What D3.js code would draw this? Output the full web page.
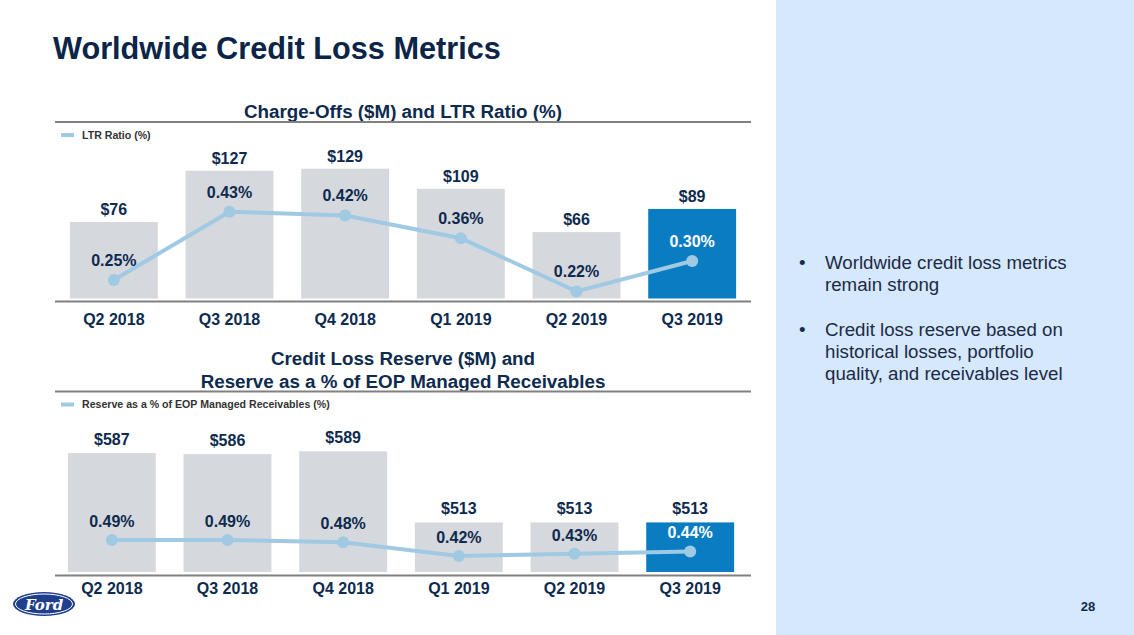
<!DOCTYPE html>
<html>
<head>
<meta charset="utf-8">
<script src="https://cdnjs.cloudflare.com/ajax/libs/d3/7.8.5/d3.min.js"></script>
<style>
  body { margin: 0; background: #fff; }
  svg { display: block; font-family: "Liberation Sans", Arial, sans-serif; }
  .axis .domain { stroke: #808080; stroke-width: 2; }
  .axis text { font-size: 16px; font-weight: bold; fill: #0d2a4f; }
</style>
</head>
<body>
<div id="chart"></div>
<script>
const quarters = ["Q2 2018", "Q3 2018", "Q4 2018", "Q1 2019", "Q2 2019", "Q3 2019"];
const chargeOffs = [76, 127, 129, 109, 66, 89];
const ltrRatio = [0.25, 0.43, 0.42, 0.36, 0.22, 0.30];
const reserve = [587, 586, 589, 513, 513, 513];
const reservePct = [0.49, 0.49, 0.48, 0.42, 0.43, 0.44];
const bullets = [
  ["Worldwide credit loss metrics", "remain strong"],
  ["Credit loss reserve based on", "historical losses, portfolio", "quality, and receivables level"]
];

const W = 1134, H = 635;
const navy = "#0d2a4f";
const barGray = "#d5d8dd";
const barBlue = "#0a7dc2";
const lineBlue = "#a0c9e4";

const svg = d3.select("#chart").append("svg").attr("width", W).attr("height", H);

// right side panel
svg.append("rect").attr("x", 776).attr("y", 0).attr("width", W - 776).attr("height", H).attr("fill", "#d6e8fb");

// page title
svg.append("text")
  .attr("x", 53).attr("y", 59)
  .attr("font-size", 30.7).attr("font-weight", "bold")
  .attr("fill", "#0b2548")
  .text("Worldwide Credit Loss Metrics");

function drawPanel(opt) {
  const g = svg.append("g");
  const x = d3.scaleBand().domain(quarters).range(opt.xRange).paddingInner(0.24).paddingOuter(0.12);

  // titles + header rule
  opt.title.forEach((t, i) => {
    g.append("text")
      .attr("x", 403).attr("y", opt.titleY + i * 23)
      .attr("text-anchor", "middle")
      .attr("font-size", 18.8).attr("font-weight", "bold")
      .attr("fill", navy)
      .text(t);
  });
  g.append("line")
    .attr("x1", 55).attr("x2", 751)
    .attr("y1", opt.ruleY).attr("y2", opt.ruleY)
    .attr("stroke", "#808080").attr("stroke-width", 2);

  // legend
  g.append("line")
    .attr("x1", 61).attr("x2", 74)
    .attr("y1", opt.ruleY + 13).attr("y2", opt.ruleY + 13)
    .attr("stroke", lineBlue).attr("stroke-width", 4);
  g.append("text")
    .attr("x", 82).attr("y", opt.ruleY + 16.5)
    .attr("font-size", 10.6).attr("font-weight", "bold")
    .attr("fill", "#333")
    .text(opt.legend);

  // bars
  g.selectAll("rect.bar")
    .data(opt.bars)
    .join("rect")
    .attr("class", "bar")
    .attr("x", (d, i) => x(quarters[i]))
    .attr("width", x.bandwidth())
    .attr("y", d => opt.yBar(d))
    .attr("height", d => opt.yBar.range()[0] - opt.yBar(d))
    .attr("fill", (d, i) => i === quarters.length - 1 ? barBlue : barGray);

  g.selectAll("text.barlabel")
    .data(opt.bars)
    .join("text")
    .attr("class", "barlabel")
    .attr("x", (d, i) => x(quarters[i]) + x.bandwidth() / 2)
    .attr("y", d => opt.yBar(d) - opt.barLabelGap)
    .attr("text-anchor", "middle")
    .attr("font-size", 16).attr("font-weight", "bold")
    .attr("fill", navy)
    .text(d => "$" + d);

  // line
  const line = d3.line()
    .x((d, i) => x(quarters[i]) + x.bandwidth() / 2)
    .y(d => opt.yLine(d));
  g.append("path")
    .datum(opt.pts)
    .attr("d", line)
    .attr("fill", "none")
    .attr("stroke", lineBlue)
    .attr("stroke-width", 4);
  g.selectAll("circle.pt")
    .data(opt.pts)
    .join("circle")
    .attr("class", "pt")
    .attr("cx", (d, i) => x(quarters[i]) + x.bandwidth() / 2)
    .attr("cy", d => opt.yLine(d))
    .attr("r", 6)
    .attr("fill", lineBlue);

  g.selectAll("text.ptlabel")
    .data(opt.pts)
    .join("text")
    .attr("class", "ptlabel")
    .attr("x", (d, i) => x(quarters[i]) + x.bandwidth() / 2)
    .attr("y", d => opt.yLine(d) - opt.ptLabelGap)
    .attr("text-anchor", "middle")
    .attr("font-size", 16).attr("font-weight", "bold")
    .attr("fill", (d, i) => i === quarters.length - 1 ? "#fff" : navy)
    .text(d => d.toFixed(2) + "%");

  // x axis
  g.append("g")
    .attr("class", "axis")
    .attr("transform", `translate(0,${opt.axisY})`)
    .call(d3.axisBottom(x).tickSize(0).tickPadding(opt.tickPad))
    .call(a => a.select(".domain").attr("d", `M55,0H751`));
}

drawPanel({
  xRange: [56, 750],
  title: ["Charge-Offs ($M) and LTR Ratio (%)"],
  titleY: 118,
  ruleY: 122,
  legend: "LTR Ratio (%)",
  bars: chargeOffs,
  yBar: d3.scaleLinear().domain([0, 129]).range([298.5, 168.7]),
  barLabelGap: 7,
  pts: ltrRatio,
  yLine: d3.scaleLinear().domain([0.25, 0.43]).range([280, 211.7]),
  ptLabelGap: 14,
  axisY: 301.5,
  tickPad: 12
});

drawPanel({
  xRange: [54, 748],
  title: ["Credit Loss Reserve ($M) and", "Reserve as a % of EOP Managed Receivables"],
  titleY: 364.5,
  ruleY: 391.5,
  legend: "Reserve as a % of EOP Managed Receivables (%)",
  bars: reserve,
  yBar: d3.scaleLinear().domain([460, 589]).range([572, 451.3]),
  barLabelGap: 8,
  pts: reservePct,
  yLine: d3.scaleLinear().domain([0.42, 0.49]).range([556, 540]),
  ptLabelGap: 13,
  axisY: 575.5,
  tickPad: 7
});

// bullets on the right panel
let by = 269;
bullets.forEach(lines => {
  svg.append("text")
    .attr("x", 799).attr("y", by)
    .attr("font-size", 18.7).attr("fill", "#1b2a48")
    .text("•");
  lines.forEach((l, i) => {
    svg.append("text")
      .attr("x", 825).attr("y", by + i * 22.3)
      .attr("font-size", 18.7).attr("fill", "#1b2a48")
      .text(l);
  });
  by += lines.length * 22.3 + 22;
});

// page number
svg.append("text")
  .attr("x", 1088).attr("y", 611)
  .attr("text-anchor", "middle")
  .attr("font-size", 13).attr("font-weight", "bold")
  .attr("fill", navy)
  .text("28");

// Ford oval
const logo = svg.append("g").attr("transform", "translate(44,604)");
logo.append("ellipse").attr("rx", 31).attr("ry", 12).attr("fill", "#1f3f8c");
logo.append("ellipse").attr("rx", 28.5).attr("ry", 10).attr("fill", "none").attr("stroke", "#fff").attr("stroke-width", 1);
logo.append("text")
  .attr("y", 5.5).attr("text-anchor", "middle")
  .attr("font-family", "DejaVu Serif, serif")
  .attr("font-style", "italic").attr("font-weight", "bold")
  .attr("font-size", 15).attr("fill", "#fff")
  .text("Ford");
</script>
</body>
</html>
